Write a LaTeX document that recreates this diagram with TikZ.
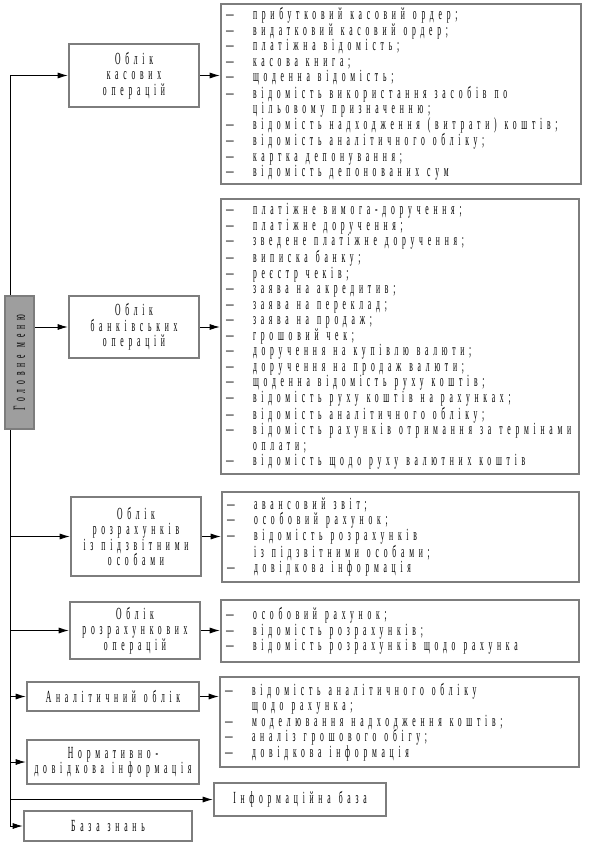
\documentclass[tikz,border=0pt]{standalone}
\usepackage{fontspec}
\newfontfamily\ukr[FakeStretch=0.45,LetterSpace=28,WordSpace=1.2]{Liberation Serif}
\usepackage{tikz}
\usetikzlibrary{arrows.meta, positioning, backgrounds}
\definecolor{boxgray}{RGB}{125,125,125}
\definecolor{menugray}{RGB}{158,158,158}

\tikzset{
  every node/.append style={font=\ukr\fontsize{17pt}{15.5pt}\selectfont},
  unit/.style={draw=boxgray, line width=2.6pt, fill=white, align=center,
               inner sep=2pt},
  listbox/.style={draw=boxgray, line width=2.6pt, fill=white,
                  align=flush left, inner xsep=5pt, inner ysep=2pt},
  arr/.style={-{Latex[length=10pt,width=6pt]}, line width=0.8pt}
}
\newcommand{\itm}{\makebox[27pt][l]{—}}
\newcommand{\cnt}{\hspace*{27pt}}

\begin{document}
\begin{tikzpicture}[x=1pt,y=-1pt]
\useasboundingbox (0,0) rectangle (591,845);

% ── Main menu ────────────────────────────────────────────────────────────────
\node[draw=boxgray, line width=2.6pt, fill=menugray, rotate=90,
      minimum width=133pt, minimum height=29pt, inner sep=0pt]
     (menu) at (19.5,362.5) {Головне меню};

% ── Accounting units ─────────────────────────────────────────────────────────
\node[unit, minimum width=130pt, minimum height=63pt] (kas) at (134,75.5)
     {Облік\\касових\\операцій};
\node[unit, minimum width=130pt, minimum height=62pt] (bank) at (134,327)
     {Облік\\банківських\\операцій};
\node[unit, minimum width=130pt, minimum height=79pt] (pidz) at (136,536.5)
     {Облік\\розрахунків\\із підзвітними\\особами};
\node[unit, minimum width=130pt, minimum height=57pt] (rozr) at (135,630.5)
     {Облік\\розрахункових\\операцій};
\node[unit, minimum width=172pt, minimum height=29pt] (anal) at (113,696.5)
     {Аналітичний облік};
\node[unit, minimum width=172pt, minimum height=44pt] (norm) at (113,762)
     {Нормативно-\\довідкова інформація};
\node[unit, minimum width=172pt, minimum height=33pt] (info) at (300,799.5)
     {Інформаційна база};
\node[unit, minimum width=168pt, minimum height=30pt] (baza) at (108,826)
     {База знань};

% ── Document lists ───────────────────────────────────────────────────────────
\node[listbox, minimum width=360pt, minimum height=180pt, text width=350pt]
     (kasL) at (401,94)
     {\itm прибутковий касовий ордер;\\
      \itm видатковий касовий ордер;\\
      \itm платіжна відомість;\\
      \itm касова книга;\\
      \itm щоденна відомість;\\
      \itm відомість використання засобів по\\
      \cnt цільовому призначенню;\\
      \itm відомість надходження (витрати) коштів;\\
      \itm відомість аналітичного обліку;\\
      \itm картка депонування;\\
      \itm відомість депонованих сум};
\node[listbox, minimum width=358pt, minimum height=275pt, text width=348pt]
     (bankL) at (400,336.5)
     {\itm платіжне вимога-доручення;\\
      \itm платіжне доручення;\\
      \itm зведене платіжне доручення;\\
      \itm виписка банку;\\
      \itm реєстр чеків;\\
      \itm заява на акредитив;\\
      \itm заява на переклад;\\
      \itm заява на продаж;\\
      \itm грошовий чек;\\
      \itm доручення на купівлю валюти;\\
      \itm доручення на продаж валюти;\\
      \itm щоденна відомість руху коштів;\\
      \itm відомість руху коштів на рахунках;\\
      \itm відомість аналітичного обліку;\\
      \itm відомість рахунків отримання за термінами\\
      \cnt оплати;\\
      \itm відомість щодо руху валютних коштів};
\node[listbox, minimum width=357pt, minimum height=90pt, text width=347pt]
     (pidzL) at (400.5,537)
     {\itm авансовий звіт;\\
      \itm особовий рахунок;\\
      \itm відомість розрахунків\\
      \cnt із підзвітними особами;\\
      \itm довідкова інформація};
\node[listbox, minimum width=358pt, minimum height=62pt, text width=348pt]
     (rozrL) at (400,631)
     {\itm особовий рахунок;\\
      \itm відомість розрахунків;\\
      \itm відомість розрахунків щодо рахунка};
\node[listbox, minimum width=359pt, minimum height=90pt, text width=349pt]
     (analL) at (399.5,722)
     {\itm відомість аналітичного обліку\\
      \cnt щодо рахунка;\\
      \itm моделювання надходження коштів;\\
      \itm аналіз грошового обігу;\\
      \itm довідкова інформація};

% ── Trunk line ───────────────────────────────────────────────────────────────
\coordinate (trunk) at (10,75.5);
\begin{scope}[on background layer]
  \draw[line width=0.8pt] (trunk) -- (trunk |- baza);
\end{scope}

% ── Connectors ───────────────────────────────────────────────────────────────
\draw[arr] (menu.south |- bank) -- (bank);
\foreach \n in {kas, pidz, rozr, anal, norm, info, baza}
  \draw[arr] (trunk |- \n) -- (\n);
\foreach \a/\b in {kas/kasL, bank/bankL, pidz/pidzL, rozr/rozrL, anal/analL}
  \draw[arr] (\a) -- (\a -| \b.west);

\end{tikzpicture}
\end{document}
